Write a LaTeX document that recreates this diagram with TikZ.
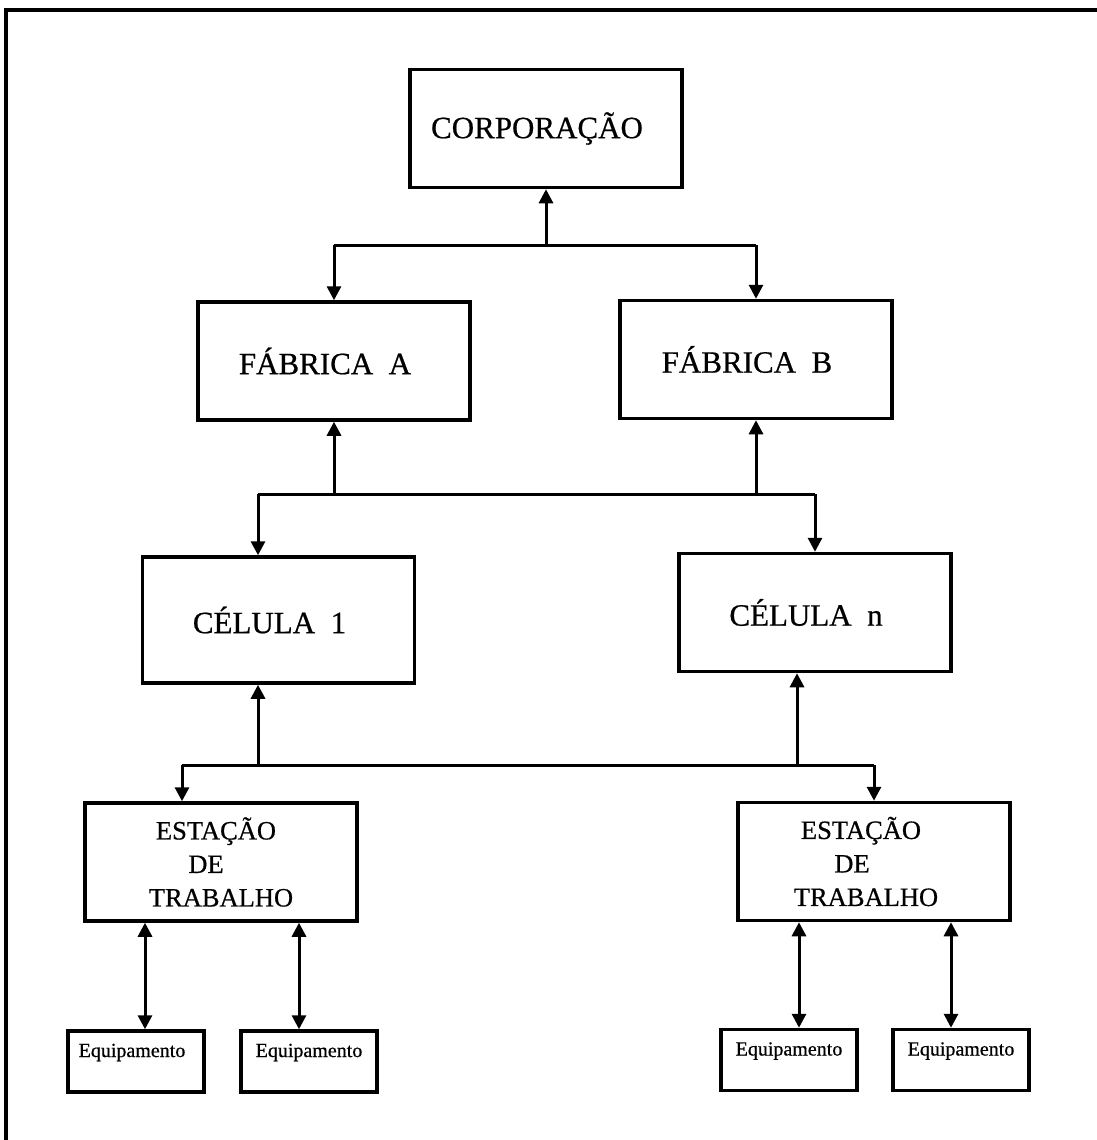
\documentclass[tikz,border=0pt]{standalone}
\usepackage{fontspec}
\setmainfont{Liberation Serif}[UprightFeatures={FakeBold=0.6}]
\usetikzlibrary{arrows.meta}
% kern that moves a centred label slightly to the left
\newcommand{\lgap}{\kern18pt}
\begin{document}
\begin{tikzpicture}[x=1pt,y=-1pt,
  bigbox/.style={draw, line width=3.5pt, rectangle, inner sep=0pt,
    minimum width=272pt, minimum height=118pt, align=center,
    font=\fontsize{31}{37}\selectfont},
  stationbox/.style={bigbox, font=\fontsize{26.5}{33.5}\selectfont},
  equipbox/.style={draw, line width=3.5pt, rectangle, inner xsep=0pt, inner ysep=8pt,
    minimum width=136pt, text height=18pt, text depth=27pt,
    font=\fontsize{20}{24}\selectfont},
  link/.style={line width=3pt},
  uptip/.style={link, -{Triangle[length=14pt,width=14pt]}},
  bothtips/.style={link, {Triangle[length=14pt,width=14pt]}-{Triangle[length=14pt,width=14pt]}}
]
\useasboundingbox (0,0) rectangle (1097,1140);

% page frame (top and left edges)
\draw[line width=3.5pt] (1097,10) -- (6,10) -- (6,1140);

% hierarchy levels
\node[bigbox] (corp) at (546,128.5) {CORPORAÇÃO\lgap};
\node[bigbox] (fa) at (334,361) {FÁBRICA\ \ A\lgap};
\node[bigbox] (fb) at (756,359.5) {FÁBRICA\ \ B\lgap};
\node[bigbox, minimum height=126pt] (c1) at (278.5,620) {CÉLULA\ \ 1\lgap};
\node[bigbox] (cn) at (815,612.5) {CÉLULA\ \ n\lgap};
\node[stationbox] (el) at (221,862) {ESTAÇÃO\kern10pt\\DE\kern30pt\\TRABALHO};
\node[stationbox] (er) at (874,861.5) {ESTAÇÃO\kern26pt\\DE\kern44pt\\TRABALHO\kern16pt};
\node[equipbox] (e1) at (136,1061.5) {Equipamento\kern8pt};
\node[equipbox] (e2) at (309,1061.5) {Equipamento};
\node[equipbox] (e3) at (789,1060) {Equipamento};
\node[equipbox] (e4) at (961,1060) {Equipamento};

% bus levels
\coordinate (b0) at (0,245);
\coordinate (b1) at (0,494);
\coordinate (b2) at (0,765);
\coordinate (x1) at (258,0);
\coordinate (x2) at (797,0);
\coordinate (x3) at (182,0);
\coordinate (q1) at (145,0);
\coordinate (q2) at (299,0);
\coordinate (q3) at (799,0);
\coordinate (q4) at (951,0);

% corporation <-> factories
\draw[link] (fa.north |- b0) -- (fb.north |- b0);
\draw[uptip] (corp.south |- b0) -- (corp.south);
\draw[uptip] (fa.north |- b0) -- (fa.north);
\draw[uptip] (fb.north |- b0) -- (fb.north);

% factories <-> cells
\draw[link] (x1 |- b1) -- (cn.north |- b1);
\draw[uptip] (fa.south |- b1) -- (fa.south);
\draw[uptip] (fb.south |- b1) -- (fb.south);
\draw[uptip] (x1 |- b1) -- (x1 |- c1.north);
\draw[uptip] (cn.north |- b1) -- (cn.north);

% cells <-> workstations
\draw[link] (x3 |- b2) -- (er.north |- b2);
\draw[uptip] (x1 |- b2) -- (x1 |- c1.south);
\draw[uptip] (x2 |- b2) -- (x2 |- cn.south);
\draw[uptip] (x3 |- b2) -- (x3 |- el.north);
\draw[uptip] (er.north |- b2) -- (er.north);

% workstations <-> equipment
\draw[bothtips] (q1 |- el.south) -- (q1 |- e1.north);
\draw[bothtips] (q2 |- el.south) -- (q2 |- e2.north);
\draw[bothtips] (q3 |- er.south) -- (q3 |- e3.north);
\draw[bothtips] (q4 |- er.south) -- (q4 |- e4.north);
\end{tikzpicture}
\end{document}
